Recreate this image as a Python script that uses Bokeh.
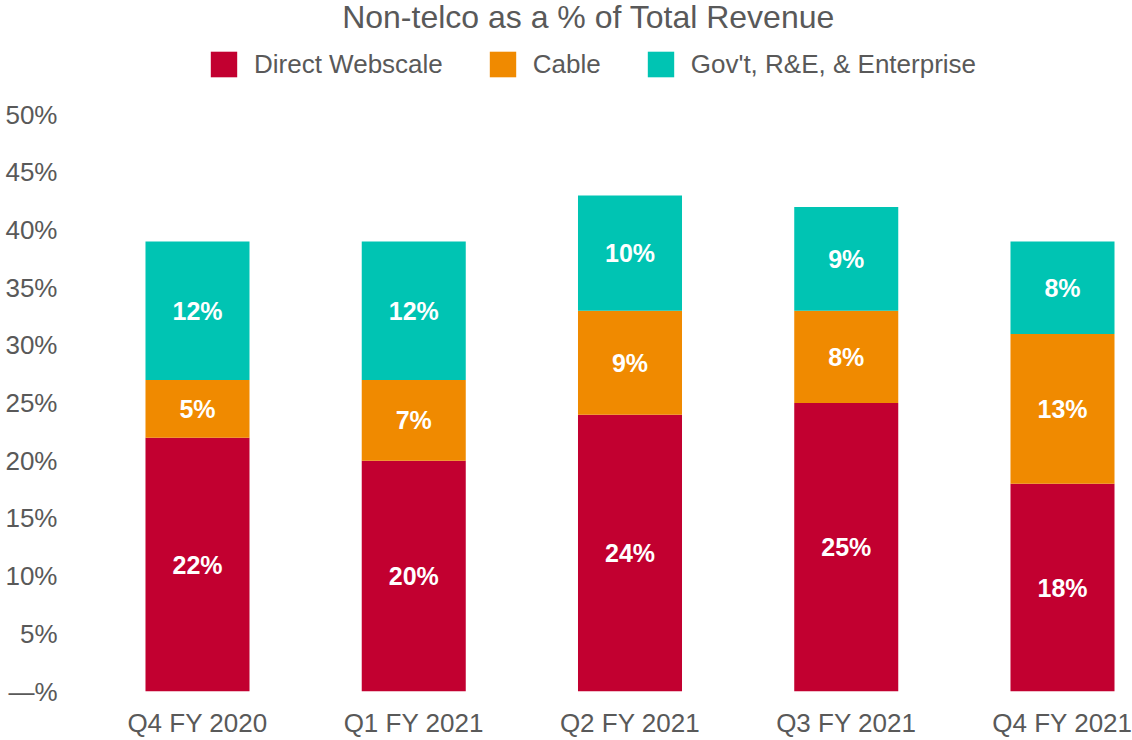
from bokeh.plotting import figure
from bokeh.models import Range1d, FixedTicker, Legend, LegendItem, ColumnDataSource, Label
from bokeh.core.properties import value
from bokeh.embed import file_html
from bokeh.resources import INLINE

categories = ["Q4 FY 2020", "Q1 FY 2021", "Q2 FY 2021", "Q3 FY 2021", "Q4 FY 2021"]
direct_webscale = [22, 20, 24, 25, 18]
cable = [5, 7, 9, 8, 13]
govt_enterprise = [12, 12, 10, 9, 8]
series_names = ["Direct Webscale", "Cable", "Gov't, R&E, & Enterprise"]
y_ticks = [0, 5, 10, 15, 20, 25, 30, 35, 40, 45, 50]

colors = ["#C20030", "#F08A00", "#00C4B3"]
GRAY = "#595959"
FONT = "Liberation Sans"

xs = list(range(len(categories)))
keys = ["direct", "cable", "gov"]
src = ColumnDataSource(dict(x=xs, direct=direct_webscale, cable=cable, gov=govt_enterprise))

# frame spans the full height above the x axis; room above 50% holds title and legend
p = figure(width=1132, height=740, output_backend="svg", toolbar_location=None,
           title_location=None,
           x_range=Range1d(-0.4994, 4.3237), y_range=Range1d(0, 59.9),
           min_border_left=89, min_border_right=0, min_border_top=0, min_border_bottom=46)

rs = p.vbar_stack(keys, x="x", width=0.481, source=src, color=colors, line_color=None)

# segment labels
all_series = [direct_webscale, cable, govt_enterprise]
for i, vals in enumerate(all_series):
    base = [sum(s[j] for s in all_series[:i]) for j in range(len(xs))]
    mids = [b + v / 2 for b, v in zip(base, vals)]
    p.text(x=xs, y=mids, text=[f"{v}%" for v in vals], text_align="center", text_baseline="middle",
           text_color="white", text_font=value(FONT), text_font_style="bold", text_font_size="25px")

title = Label(x=499, y=675, x_units="screen", y_units="screen",
              text="Non-telco as a % of Total Revenue", text_align="center", text_baseline="middle",
              text_font=FONT, text_font_size="32px", text_color=GRAY)
p.add_layout(title)

legend = Legend(items=[LegendItem(label=n, renderers=[r]) for n, r in zip(series_names, rs)],
                orientation="horizontal", location=(118, 611),
                glyph_width=33, glyph_height=32, label_standoff=14, spacing=43, padding=0,
                margin=0, border_line_color=None, background_fill_alpha=0,
                label_text_font=FONT, label_text_font_size="26px", label_text_color=GRAY)
p.add_layout(legend, "center")

p.xgrid.visible = False
p.ygrid.visible = False
p.outline_line_color = None

p.xaxis.ticker = FixedTicker(ticks=xs)
p.xaxis.major_label_overrides = {i: c for i, c in zip(xs, categories)}
p.yaxis.ticker = FixedTicker(ticks=y_ticks)
p.yaxis.major_label_overrides = {t: ("\u2014%" if t == 0 else f"{t}%") for t in y_ticks}

for ax in (p.xaxis[0], p.yaxis[0]):
    ax.axis_line_color = None
    ax.major_tick_line_color = None
    ax.minor_tick_line_color = None
    ax.major_tick_out = 0
    ax.major_tick_in = 0
    ax.major_label_text_font = FONT
    ax.major_label_text_font_size = "26px"
    ax.major_label_text_color = GRAY
p.xaxis.major_label_standoff = 16
p.yaxis.major_label_standoff = 32

open("out.html", "w").write(file_html(p, INLINE))
